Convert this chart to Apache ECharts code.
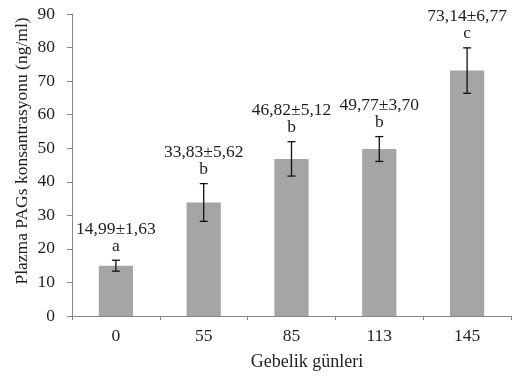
<!DOCTYPE html>
<html>
<head>
<meta charset="utf-8">
<script src="https://cdn.jsdelivr.net/npm/echarts@6/dist/echarts.min.js"></script>
<style>
html,body{margin:0;padding:0;background:#fff;}
#chart{width:516px;height:379px;}
</style>
</head>
<body>
<div id="chart"></div>
<script>
// Gestation days and plasma PAG concentration (mean ± SE)
var days = ['0', '55', '85', '113', '145'];
var means = [14.99, 33.83, 46.82, 49.77, 73.14];
var errors = [1.63, 5.62, 5.12, 3.70, 6.77];
var letters = ['a', 'b', 'b', 'b', 'c'];
var meanText = ['14,99±1,63', '33,83±5,62', '46,82±5,12', '49,77±3,70', '73,14±6,77'];

var serif = "'Liberation Serif', 'Times New Roman', serif";
var textColor = '#1e1e1e';
var axisColor = '#878787';

var chart = echarts.init(document.getElementById('chart'), null, {renderer: 'canvas'});

var errData = days.map(function (d, i) {
  return [i, means[i], errors[i]];
});

chart.setOption({
  animation: false,
  grid: {left: 72, right: 5, top: 14, bottom: 63},
  xAxis: {
    type: 'category',
    data: days,
    boundaryGap: true,
    axisLine: {lineStyle: {color: axisColor, width: 1}},
    axisTick: {show: true, length: 4, interval: 0, lineStyle: {color: axisColor}},
    axisLabel: {color: textColor, fontFamily: serif, fontSize: 17.5, margin: 11}
  },
  yAxis: {
    type: 'value',
    min: 0,
    max: 90,
    interval: 10,
    splitLine: {show: false},
    axisLine: {show: true, lineStyle: {color: axisColor, width: 1}},
    axisTick: {show: true, length: 5, lineStyle: {color: axisColor}},
    axisLabel: {color: textColor, fontFamily: serif, fontSize: 17.5, margin: 17}
  },
  graphic: [
    {
      type: 'text',
      x: 307,
      y: 362,
      style: {text: 'Gebelik günleri', font: '18px ' + serif, fill: textColor, textAlign: 'center', textVerticalAlign: 'middle'}
    },
    {
      type: 'text',
      x: 22,
      y: 151,
      rotation: Math.PI / 2,
      style: {text: 'Plazma PAGs konsantrasyonu (ng/ml)', font: '17.5px ' + serif, fill: textColor, textAlign: 'center', textVerticalAlign: 'middle'}
    }
  ],
  series: [
    {
      type: 'bar',
      data: means,
      barWidth: '39%',
      itemStyle: {color: '#a5a5a5'}
    },
    {
      type: 'custom',
      data: errData,
      z: 10,
      renderItem: function (params, api) {
        var i = api.value(0);
        var m = api.value(1);
        var e = api.value(2);
        var hi = api.coord([i, m + e]);
        var lo = api.coord([i, m - e]);
        var cap = 4;
        var ls = {stroke: '#111', lineWidth: 1.3};
        return {
          type: 'group',
          children: [
            {type: 'line', shape: {x1: hi[0], y1: hi[1], x2: lo[0], y2: lo[1]}, style: ls},
            {type: 'line', shape: {x1: hi[0] - cap, y1: hi[1], x2: hi[0] + cap, y2: hi[1]}, style: ls},
            {type: 'line', shape: {x1: lo[0] - cap, y1: lo[1], x2: lo[0] + cap, y2: lo[1]}, style: ls},
            {type: 'text', x: hi[0], y: hi[1] - 14,
              style: {text: letters[params.dataIndex], font: '17.5px ' + serif, fill: textColor, textAlign: 'center', textVerticalAlign: 'middle'}},
            {type: 'text', x: hi[0], y: hi[1] - 31,
              style: {text: meanText[params.dataIndex], font: '17.5px ' + serif, fill: textColor, textAlign: 'center', textVerticalAlign: 'middle'}}
          ]
        };
      }
    }
  ]
});
</script>
</body>
</html>
